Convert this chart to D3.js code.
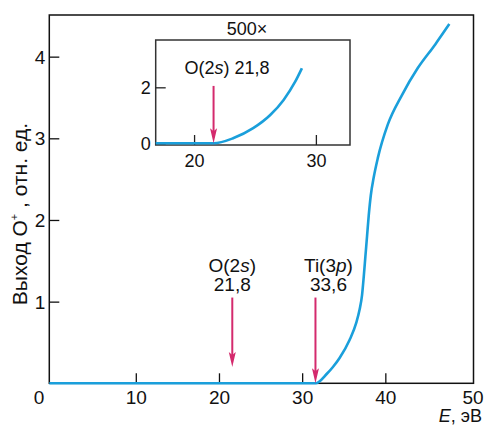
<!DOCTYPE html>
<html lang="ru">
<head>
<meta charset="UTF-8">
<title>O+ yield</title>
<script src="https://d3js.org/d3.v7.min.js"></script>
<style>
    body { margin: 0; background: #fff; }
    svg text { font-family: "Liberation Sans", Arial, sans-serif; fill: #111; }
</style>
</head>
<body>
<svg width="486" height="425"></svg>
<script>
    // main curve (E, eV -> O+ yield, arb. units)
    const mainE     = [-0.4, 31.6, 33.0, 33.7, 34.5, 35.7, 36.5, 36.9, 37.2, 37.4, 37.6, 37.8, 38.0, 38.25, 38.6, 39.1, 40.3, 42.0, 43.9, 46.0, 47.7];
    const mainYield = [0,    0,    0.12, 0.2,  0.31, 0.53, 0.74, 0.9,  1.08, 1.3,  1.55, 1.8,  2.05, 2.3,   2.52, 2.76, 3.17, 3.53, 3.86, 4.15, 4.40];

    // inset curve (500x)
    const insetE     = [16.85, 21.6, 23.2, 24.85, 26.25, 27.35, 28.3, 28.85];
    const insetYield = [0,     0,    0.18, 0.54,  1.01,  1.55,  2.2,  2.68];

    const xTicks = [10, 20, 30, 40];
    const yTicks = [1, 2, 3, 4];
    const insetXTicks = [20, 30];
    const insetYTicks = [0, 2];

    // thresholds marked with arrows
    const mainArrowE   = [21.6, 31.6];
    const mainArrowTip = [0.2, 0];
    const labelName  = [["O(2", "s", ")"], ["Ti(3", "p", ")"]];
    const labelValue = ["21,8", "33,6"];

    const blue = "#1a9fdb";
    const red = "#d42a6d";

    const svg = d3.select("svg");

    // scales
    const x = d3.scaleLinear().domain([-0.4, 50.6]).range([49.3, 473.5]);
    const y = d3.scaleLinear().domain([0, 4.51]).range([383.3, 15]);

    const ix = d3.scaleLinear().domain([16.85, 32.8]).range([155.7, 350]);
    const iy = d3.scaleLinear().domain([-0.06, 3.69]).range([145, 40]);

    // vertical arrow: shaft + narrow head, tip at (px, tipY)
    function arrow(g, px, topY, tipY) {
        g.append("line")
            .attr("x1", px).attr("x2", px)
            .attr("y1", topY).attr("y2", tipY - 10)
            .attr("stroke", red).attr("stroke-width", 2);
        g.append("path")
            .attr("d", `M${px - 3.5},${tipY - 15} L${px},${tipY - 12} L${px + 3.5},${tipY - 15} L${px},${tipY} Z`)
            .attr("fill", red);
    }

    // main frame
    svg.append("rect")
        .attr("x", x.range()[0]).attr("y", y.range()[1])
        .attr("width", x.range()[1] - x.range()[0])
        .attr("height", y.range()[0] - y.range()[1])
        .attr("fill", "none").attr("stroke", "#111").attr("stroke-width", 1.5);

    // ticks (inward)
    const gx = svg.append("g").attr("transform", `translate(0,${y(0)})`)
        .call(d3.axisBottom(x).tickValues(xTicks).tickFormat(d3.format("d")).tickSizeInner(-10).tickSizeOuter(0));
    const gy = svg.append("g").attr("transform", `translate(${x.range()[0]},0)`)
        .call(d3.axisLeft(y).tickValues(yTicks).tickFormat(d3.format("d")).tickSizeInner(-10).tickSizeOuter(0));
    [gx, gy].forEach(g => {
        g.select(".domain").remove();
        g.selectAll("line").attr("stroke", "#111").attr("stroke-width", 1.3);
        g.selectAll("text").style("font-size", "19px").attr("fill", "#111")
            .style("font-family", "'Liberation Sans', Arial, sans-serif");
    });
    gx.selectAll("text").attr("dy", null).attr("y", 20.5);
    gy.selectAll("text").attr("x", -4).attr("dy", "0.35em");

    // corner labels 0 and 50
    svg.append("text").attr("x", 39).attr("y", 404).attr("text-anchor", "middle")
        .style("font-size", "19px").text("0");
    svg.append("text").attr("x", 473).attr("y", 403.5).attr("text-anchor", "middle")
        .style("font-size", "19px").text("50");

    // axis titles
    const xt = svg.append("text").attr("x", 482).attr("y", 421.5).attr("text-anchor", "end")
        .style("font-size", "18px");
    xt.append("tspan").attr("font-style", "italic").text("E");
    xt.append("tspan").text(", эВ");

    const yt = svg.append("text")
        .attr("transform", "translate(27,214) rotate(-90)")
        .attr("text-anchor", "middle")
        .style("font-size", "21px");
    yt.append("tspan").text("Выход O");
    yt.append("tspan").attr("dy", -9).style("font-size", "11px").text("+");
    yt.append("tspan").attr("dy", 9).text(" , отн. ед.");

    // main curve
    const line = d3.line()
        .x((d, i) => x(mainE[i]))
        .y((d, i) => y(mainYield[i]))
        .curve(d3.curveMonotoneX);
    svg.append("path")
        .datum(mainE)
        .attr("d", line)
        .attr("fill", "none").attr("stroke", blue).attr("stroke-width", 2.6);

    // arrows + labels
    mainArrowE.forEach((e, i) => {
        arrow(svg, x(e), y(1.05), y(mainArrowTip[i]));
        const cx = x(e) + (i === 1 ? 13 : 0);
        const t = svg.append("text").attr("x", cx).attr("y", 271.5)
            .attr("text-anchor", "middle").style("font-size", "19px");
        t.append("tspan").text(labelName[i][0]);
        t.append("tspan").attr("font-style", "italic").text(labelName[i][1]);
        t.append("tspan").text(labelName[i][2]);
        svg.append("text").attr("x", cx).attr("y", 290.5)
            .attr("text-anchor", "middle").style("font-size", "19px").text(labelValue[i]);
    });

    // inset
    const inset = svg.append("g");
    inset.append("rect")
        .attr("x", ix.range()[0]).attr("y", iy.range()[1])
        .attr("width", ix.range()[1] - ix.range()[0])
        .attr("height", iy.range()[0] - iy.range()[1])
        .attr("fill", "#fff").attr("stroke", "#333").attr("stroke-width", 1.5);

    const igx = inset.append("g").attr("transform", `translate(0,${iy.range()[0]})`)
        .call(d3.axisBottom(ix).tickValues(insetXTicks).tickFormat(d3.format("d")).tickSizeInner(-10).tickSizeOuter(0));
    const igy = inset.append("g").attr("transform", `translate(${ix.range()[0]},0)`)
        .call(d3.axisLeft(iy).tickValues(insetYTicks).tickFormat(d3.format("d")).tickSizeInner(-10).tickSizeOuter(0));
    [igx, igy].forEach(g => {
        g.select(".domain").remove();
        g.selectAll("line").attr("stroke", "#222").attr("stroke-width", 1.3);
        g.selectAll("text").style("font-size", "18px").attr("fill", "#111")
            .style("font-family", "'Liberation Sans', Arial, sans-serif");
    });
    igx.selectAll("text").attr("dy", null).attr("y", 22);
    igy.selectAll("text").attr("x", -5).attr("dy", "0.35em");

    inset.append("text").attr("x", 247).attr("y", 35).attr("text-anchor", "middle")
        .style("font-size", "18px").text("500×");

    const it = inset.append("text").attr("x", 227).attr("y", 73.5).attr("text-anchor", "middle")
        .style("font-size", "18px");
    it.append("tspan").text("O(2");
    it.append("tspan").attr("font-style", "italic").text("s");
    it.append("tspan").text(") 21,8");

    const iline = d3.line()
        .x((d, i) => ix(insetE[i]))
        .y((d, i) => iy(insetYield[i]))
        .curve(d3.curveMonotoneX);
    inset.append("path")
        .datum(insetE)
        .attr("d", iline)
        .attr("fill", "none").attr("stroke", blue).attr("stroke-width", 2.6);

    arrow(inset, ix(21.6), iy(2.05), iy(0));
</script>
</body>
</html>
